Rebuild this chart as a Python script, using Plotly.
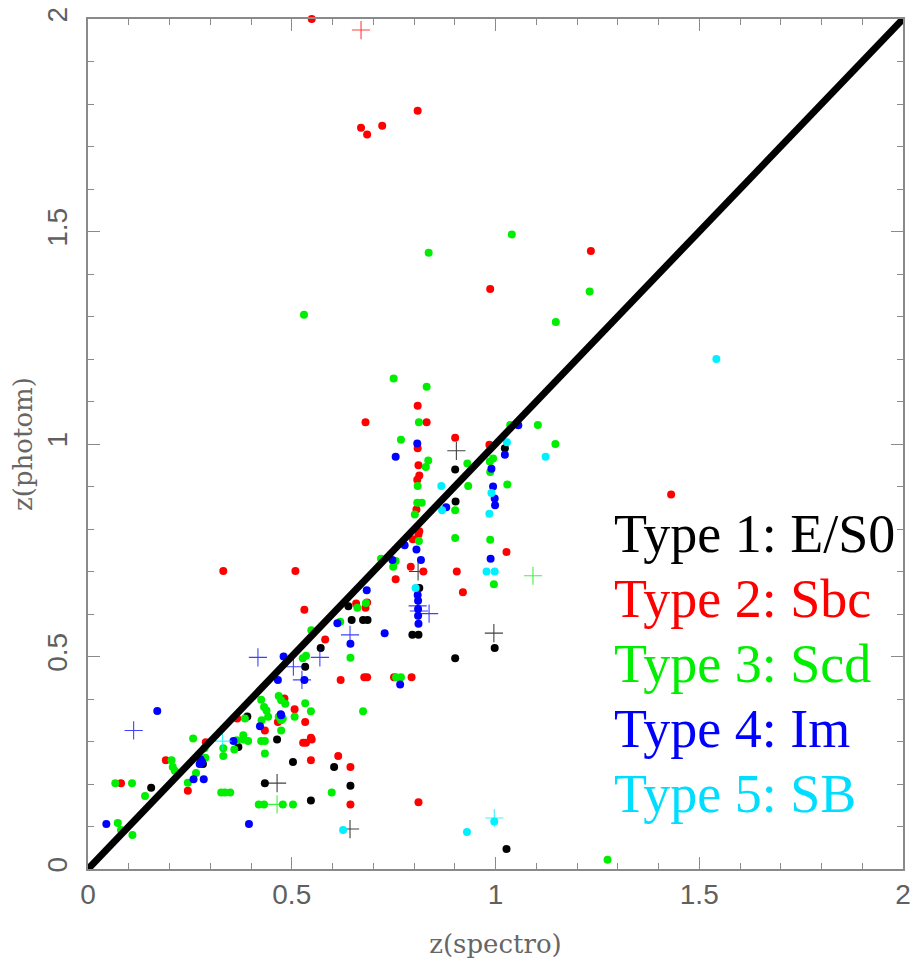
import plotly.graph_objects as go

# Photometric vs spectroscopic redshift, split by galaxy SED type.
# Each type has filled-circle objects and "+" objects.

type_names = ["Type 1: E/S0", "Type 2: Sbc", "Type 3: Scd", "Type 4: Im", "Type 5: SB"]
type_colors = ["#000000", "#ff0000", "#00ee00", "#0000ff", "#00f0ff"]
text_colors = ["#000000", "#ff0000", "#00ee00", "#0000ff", "#00ddff"]

# --- Type 1: E/S0 ---
t1_zspec = [0.901, 0.902, 1.023, 0.813, 0.639, 0.647, 0.675, 0.686, 0.571, 0.533,
            0.796, 0.811, 0.998, 0.901, 0.464, 0.503, 0.604, 0.644, 0.547, 1.027,
            0.391, 0.369, 0.282, 0.155, 0.434]
t1_zphot = [0.940, 0.865, 0.990, 0.661, 0.618, 0.586, 0.586, 0.586, 0.520, 0.476,
            0.551, 0.551, 0.520, 0.496, 0.305, 0.252, 0.240, 0.196, 0.161, 0.047,
            0.359, 0.287, 0.247, 0.191, 0.202]
t1p_zspec = [0.904, 0.810, 0.996, 0.464, 0.643]
t1p_zphot = [0.984, 0.700, 0.555, 0.202, 0.094]

# --- Type 2: Sbc ---
t2_zspec = [0.549, 0.670, 0.685, 0.722, 0.809, 1.234, 0.987, 1.431, 0.332, 0.509,
            0.531, 0.681, 0.809, 0.831, 0.809, 0.901, 0.905, 0.920, 0.985, 1.027,
            0.811, 0.813, 0.808, 0.806, 0.813, 0.811, 0.797, 0.755, 0.792, 0.823,
            0.658, 0.681, 0.685, 0.582, 0.620, 0.678, 0.685, 0.751, 0.794, 0.482,
            0.507, 0.466, 0.533, 0.434, 0.547, 0.549, 0.528, 0.535, 0.614, 0.547,
            0.644, 0.644, 0.811, 0.366, 0.289, 0.191, 0.245, 0.081]
t2_zphot = [2.000, 1.744, 1.728, 1.749, 1.784, 1.454, 1.365, 0.881, 0.701, 0.701,
            0.610, 1.051, 1.090, 1.051, 0.990, 1.015, 0.700, 0.651, 0.998, 0.746,
            0.950, 0.926, 0.916, 0.846, 0.795, 0.787, 0.776, 0.682, 0.711, 0.700,
            0.625, 0.615, 0.627, 0.540, 0.445, 0.451, 0.451, 0.451, 0.451, 0.401,
            0.376, 0.346, 0.346, 0.326, 0.309, 0.305, 0.297, 0.297, 0.266, 0.256,
            0.240, 0.152, 0.157, 0.354, 0.298, 0.256, 0.184, 0.202]
t2p_zspec = [0.670]
t2p_zphot = [1.974]

# --- Type 3: Scd ---
t3_zspec = [0.836, 1.040, 1.231, 0.530, 1.148, 1.275, 0.750, 0.831, 0.812, 0.768,
            0.901, 0.901, 0.931, 0.933, 0.986, 0.994, 0.987, 0.987, 0.996, 1.029,
            1.036, 1.104, 1.147, 0.835, 0.829, 0.809, 0.808, 0.819, 0.802, 0.812,
            0.749, 0.755, 0.719, 0.661, 0.682, 0.619, 0.644, 0.527, 0.535, 0.548,
            0.756, 0.768, 0.675, 0.425, 0.432, 0.438, 0.442, 0.426, 0.468, 0.474,
            0.484, 0.468, 0.474, 0.478, 0.474, 0.507, 0.533, 0.547, 0.425, 0.434,
            0.434, 0.598, 0.419, 0.432, 0.478, 0.503, 0.258, 0.365, 0.381, 0.393,
            0.332, 0.332, 0.359, 0.385, 0.381, 0.327, 0.336, 0.349, 0.245, 0.265,
            0.288, 0.286, 0.205, 0.208, 0.213, 0.140, 0.067, 0.108, 0.073, 0.081,
            0.109]
t3_zphot = [1.450, 1.493, 1.359, 1.304, 1.287, 0.022, 1.154, 1.135, 1.051, 1.010,
            0.844, 0.779, 0.954, 0.901, 0.959, 0.966, 0.934, 0.775, 0.670, 0.905,
            1.045, 1.045, 1.000, 0.961, 0.946, 0.901, 0.862, 0.862, 0.834, 0.772,
            0.711, 0.725, 0.730, 0.615, 0.626, 0.582, 0.497, 0.496, 0.502, 0.562,
            0.451, 0.451, 0.371, 0.398, 0.381, 0.373, 0.358, 0.350, 0.407, 0.397,
            0.389, 0.358, 0.350, 0.354, 0.326, 0.358, 0.390, 0.371, 0.301, 0.301,
            0.272, 0.180, 0.152, 0.152, 0.152, 0.152, 0.307, 0.303, 0.305, 0.301,
            0.284, 0.266, 0.281, 0.354, 0.315, 0.180, 0.180, 0.180, 0.203, 0.226,
            0.262, 0.284, 0.256, 0.240, 0.231, 0.172, 0.202, 0.202, 0.108, 0.092,
            0.080]
t3p_zspec = [1.092, 0.464]
t3p_zphot = [0.690, 0.152]

# --- Type 4: Im ---
t4_zspec = [0.808, 0.755, 0.879, 0.990, 0.994, 0.998, 0.999, 0.988, 1.023, 1.056,
            0.777, 0.806, 0.817, 0.747, 0.809, 0.810, 0.810, 0.810, 0.811, 0.728,
            0.684, 0.612, 0.644, 0.480, 0.531, 0.466, 0.766, 0.473, 0.422, 0.170,
            0.357, 0.259, 0.284, 0.274, 0.280, 0.276, 0.395, 0.045, 0.474]
t4_zphot = [1.001, 0.970, 0.851, 0.942, 0.900, 0.872, 0.856, 0.730, 0.975, 1.044,
            0.762, 0.752, 0.727, 0.727, 0.645, 0.631, 0.612, 0.596, 0.577, 0.555,
            0.656, 0.578, 0.530, 0.500, 0.445, 0.445, 0.434, 0.364, 0.336, 0.372,
            0.301, 0.211, 0.211, 0.247, 0.252, 0.258, 0.106, 0.106, 0.362]
t4p_zspec = [0.809, 0.812, 0.837, 0.643, 0.569, 0.417, 0.504, 0.525, 0.112]
t4p_zphot = [0.619, 0.607, 0.601, 0.551, 0.498, 0.498, 0.476, 0.445, 0.326]

# --- Type 5: SB ---
t5_zspec = [1.542, 0.867, 0.869, 0.990, 0.985, 0.978, 0.998, 1.028, 1.123, 0.804,
            0.626, 0.930, 0.997]
t5_zphot = [1.200, 0.901, 0.844, 0.885, 0.836, 0.700, 0.700, 1.004, 0.970, 0.661,
            0.092, 0.087, 0.112]
t5p_zspec = [0.330, 0.997]
t5p_zphot = [0.301, 0.120]

dots = [(t1_zspec, t1_zphot), (t2_zspec, t2_zphot), (t3_zspec, t3_zphot),
        (t4_zspec, t4_zphot), (t5_zspec, t5_zphot)]
plus = [(t1p_zspec, t1p_zphot), (t2p_zspec, t2p_zphot), (t3p_zspec, t3p_zphot),
        (t4p_zspec, t4p_zphot), (t5p_zspec, t5p_zphot)]

# one-to-one relation
diag = [0, 2]

fig = go.Figure()

for name, color, (xs, ys), (px, py) in zip(type_names, type_colors, dots, plus):
    fig.add_trace(go.Scatter(
        x=xs, y=ys, mode="markers", name=name, showlegend=False,
        cliponaxis=False,
        marker=dict(symbol="circle", size=8, color=color, line=dict(width=0)),
    ))
    fig.add_trace(go.Scatter(
        x=px, y=py, mode="markers", name=name, showlegend=False,
        cliponaxis=False,
        marker=dict(symbol="cross-thin-open", size=13, color=color,
                    line=dict(width=1.1, color=color), opacity=0.75),
    ))

fig.add_trace(go.Scatter(
    x=diag, y=diag, mode="lines", showlegend=False,
    line=dict(color="black", width=7),
))

# coloured type labels in the lower-right corner
for i, (name, tc) in enumerate(zip(type_names, text_colors)):
    fig.add_annotation(
        xref="paper", yref="paper", x=0.643, y=0.394 - i * 0.0764,
        xanchor="left", yanchor="middle", showarrow=False,
        text=name,
        font=dict(family="Liberation Serif", size=54, color=tc),
    )

axis_common = dict(
    range=[0, 2],
    tickvals=[0, 0.5, 1, 1.5, 2],
    ticktext=["0", "0.5", "1", "1.5", "2"],
    ticks="inside", ticklen=12, tickwidth=1.3, tickcolor="#8a8a8a",
    minor=dict(ticks="inside", ticklen=6, dtick=0.1, tickwidth=1.3, tickcolor="#8a8a8a"),
    showline=True, linecolor="#8a8a8a", linewidth=1.6, mirror="allticks",
    showgrid=False, zeroline=False,
    tickfont=dict(family="Liberation Sans", size=28, color="#606060"),
)

fig.update_xaxes(
    **axis_common,
    ticklabelstandoff=0,
    title=dict(text="z(spectro)", standoff=25,
               font=dict(family="DejaVu Serif", size=26, color="#666666")),
)
fig.update_yaxes(
    **axis_common,
    ticklabelstandoff=8,
    tickangle=-90,
    title=dict(text="z(photom)", standoff=2,
               font=dict(family="DejaVu Serif", size=26, color="#666666")),
)

fig.update_layout(
    width=918, height=962,
    margin=dict(l=88, r=7, t=16, b=93),
    paper_bgcolor="white", plot_bgcolor="white",
)

fig.write_html("out.html")
